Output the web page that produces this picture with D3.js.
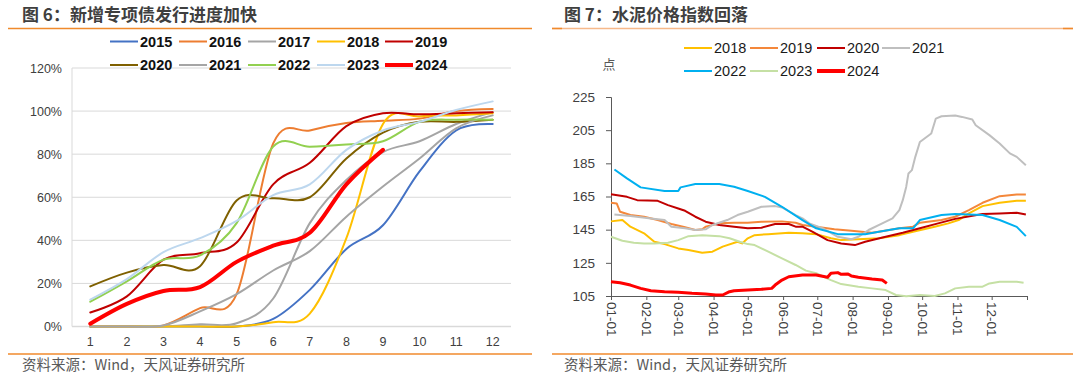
<!DOCTYPE html>
<html><head><meta charset="utf-8">
<script src="https://cdn.jsdelivr.net/npm/d3@7"></script>
<style>
body{margin:0;background:#fff;}
svg{display:block;}
.cjk{font-family:"Noto Sans CJK SC","Noto Sans",sans-serif;}
.num{font-family:"Liberation Sans",Arial,sans-serif;}
</style>
</head><body>
<svg id="c" width="1080" height="379"></svg>
<script>
// ---------- Left chart data: cumulative issuance progress (%) by month ----------
const months = [1,2,3,4,5,6,7,8,9,10,11,12];
const bondYears = ["2015","2016","2017","2018","2019","2020","2021","2022","2023","2024"];
const bond2015 = [0,0,0,0,0,3.5,17,36,47,72,91,94];
const bond2016 = [0,0,0.5,8.5,15,85,91,94.5,95.5,96.5,100,101];
const bond2017 = [0,0,0,1,1.5,13,48,68,81,86,94,99.5];
const bond2018 = [0,0,0,0,0,2,6,41,94,97.5,98,99];
const bond2019 = [6.5,14,31,34,39,66,76,93,99,98.5,99,99.5];
const bond2020 = [18.6,25,28.5,28,58.5,59.5,60,78,90,95,95,96];
const bond2021 = [0,0,0.5,7,15,26,35,51,65,78,92,98];
const bond2022 = [11.5,21,31,33,48,83.5,83.5,84.5,86,95,96,96];
const bond2023 = [12.5,22,34.5,41,49,61,66,82,91,95,100.5,104.5];
const bond2024 = [1.3,10.5,16.5,18.3,30,37.5,43.5,66,82];
const bondTicks = [0,20,40,60,80,100,120];

// ---------- Right chart data: cement price index (MM-DD, value) ----------
const cementYears = ["2018","2019","2020","2021","2022","2023","2024"];
const cement2018 = [["01-01",150],["01-11",150.8],["01-18",146.8],["01-30",142.8],["02-08",137.7],["02-17",136.3],["03-01",133.7],["03-10",132.7],["03-22",131.1],["03-31",131.7],["04-09",134.8],["04-22",137.7],["04-26",136.7],["05-01",139.8],["05-07",141.7],["05-19",142.3],["06-06",143.1],["06-18",142.8],["06-30",142.3],["07-13",139.8],["07-22",138.7],["08-06",139.2],["08-24",139.8],["09-11",141.7],["09-23",143.7],["10-12",146.8],["10-24",148.8],["11-02",150.8],["11-11",154.8],["11-23",159.2],["12-08",161.2],["12-23",162.4],["12-31",162.4]];
const cement2019 = [["01-01",161.2],["01-06",160.8],["01-09",155.8],["01-18",153.8],["01-30",152.8],["02-11",150.8],["02-23",148.4],["03-07",146.4],["03-16",144.8],["03-22",145.2],["03-25",146.8],["04-06",148.8],["04-19",149.2],["05-01",149.2],["05-13",149.8],["05-31",150],["06-12",149.2],["06-18",147.8],["06-30",146.8],["07-16",145.2],["07-31",144.4],["08-18",143.2],["08-24",143.8],["09-11",145.8],["09-23",146.8],["09-29",149.2],["10-18",150.8],["10-30",152.8],["11-11",156.8],["11-23",161.2],["12-08",165.2],["12-23",166.2],["12-31",166.2]];
const cement2020 = [["01-01",166.4],["01-15",164.8],["01-24",162.8],["02-11",162.4],["02-20",159.8],["03-01",157.8],["03-07",156.4],["03-16",152.8],["03-25",149.8],["04-06",147.8],["04-19",146.8],["05-01",145.8],["05-13",146.2],["05-25",148.4],["06-06",148.4],["06-12",146.8],["06-18",146.8],["06-27",143.7],["07-10",138.7],["07-22",136.7],["08-03",135.7],["08-12",137.7],["08-30",140.7],["09-14",143.1],["09-29",145.8],["10-15",148.8],["10-30",151.5],["11-23",154.4],["12-08",154.8],["12-23",155.2],["12-31",154.2]];
const cement2021 = [["01-04",154.2],["01-18",153.2],["02-05",151.8],["02-17",150.8],["02-23",146.8],["03-07",145.8],["03-16",144.8],["03-25",145.2],["03-31",147.8],["04-13",150.8],["04-22",153.8],["05-01",155.8],["05-13",158.8],["05-25",159.2],["05-31",158.4],["06-12",153.8],["06-18",151.8],["06-24",148.8],["07-06",145.8],["07-19",140.7],["07-31",139.2],["08-06",140.7],["08-15",144.8],["08-27",148.8],["09-05",151.8],["09-11",156.8],["09-14",162.8],["09-17",170.8],["09-19",178.9],["09-22",180.9],["09-25",188.9],["09-29",197.9],["10-09",203],["10-13",212],["10-18",213.4],["10-30",213.8],["11-05",213],["11-14",211.4],["11-17",208],["11-29",202],["12-08",197],["12-17",191],["12-23",188.9],["12-31",183.9]];
const cement2022 = [["01-04",181.3],["01-15",175.9],["01-27",170.5],["02-17",168.3],["03-01",168.3],["03-03",170.5],["03-16",172.5],["04-06",172.5],["04-19",170.9],["05-01",168.3],["05-16",164.8],["05-31",158.8],["06-18",150.8],["06-30",145.8],["07-19",142.3],["08-12",142.3],["08-24",143.7],["09-11",145.8],["09-23",145.8],["09-29",150.8],["10-18",153.8],["10-30",154.4],["11-23",153.8],["12-08",150.8],["12-23",146.7],["12-31",141.1]];
const cement2023 = [["01-01",140.7],["01-11",138.3],["01-21",137.1],["01-30",136.7],["02-08",136.7],["02-20",137.1],["03-01",138.7],["03-10",141.1],["03-22",141.7],["04-06",141.1],["04-15",139.8],["04-24",137.7],["05-01",136.3],["05-07",135.7],["05-19",131.7],["05-31",127.7],["06-12",123.7],["06-21",120.3],["06-30",118.7],["07-13",114.6],["07-22",112.2],["08-06",110.6],["08-18",109.6],["08-30",108.6],["09-08",105.6],["09-17",104.8],["09-29",105.6],["10-12",105],["10-21",106.6],["10-30",109.6],["11-11",110.6],["11-23",110.6],["11-29",112.6],["12-08",113.6],["12-23",113.6],["12-29",113]];
const cement2024 = [["01-01",113.6],["01-09",113],["01-18",111.6],["01-27",109.6],["02-05",108.2],["02-17",107.6],["03-01",107.2],["03-13",106.6],["03-25",106.2],["04-03",105.6],["04-09",105.6],["04-15",107.6],["04-19",108.2],["05-01",108.6],["05-13",109],["05-22",109.6],["05-25",111.6],["05-31",114.6],["06-06",116.6],["06-18",117.7],["06-30",117.7],["07-10",116.3],["07-13",118.7],["07-19",119.1],["07-22",118.1],["07-28",118.3],["07-31",117],["08-06",116.3],["08-18",115.2],["08-27",114.6],["08-31",112.6]];
const cementTicks = [105,125,145,165,185,205,225];

// ---------- styles ----------
const bondColors = ["#4472C4","#ED7D31","#A5A5A5","#FFC000","#C00000","#7F6000","#A5A5A5","#92D050","#BDD7EE","#FF0000"];
const cementColors = ["#FFC000","#F4873A","#C00000","#BFBFBF","#00B0F0","#C5E0A4","#FF0000"];

const svg = d3.select("#c");
const ORANGE = "#F08A2C";

// ================= LEFT PANEL =================
svg.append("text").attr("class","cjk").attr("x",22).attr("y",21)
  .attr("font-size",17).attr("font-weight","bold").attr("fill","#3F3F3F")
  .text("图 6：新增专项债发行进度加快");
svg.append("line").attr("x1",8).attr("x2",532).attr("y1",28.5).attr("y2",28.5).attr("stroke",ORANGE).attr("stroke-width",1.5);
svg.append("line").attr("x1",8).attr("x2",532).attr("y1",354).attr("y2",354).attr("stroke",ORANGE).attr("stroke-width",1.5);
svg.append("text").attr("class","cjk").attr("x",22).attr("y",370).attr("font-size",14.5).attr("fill","#595959")
  .text("资料来源：Wind，天风证券研究所");

const xL = d3.scaleBand().domain(months).range([72,511]);
const xLc = m => xL(m) + xL.bandwidth()/2;
const yL = d3.scaleLinear().domain([0,120]).range([326.5,68]);

const gL = svg.append("g");
gL.selectAll(".grid").data(bondTicks).join("line")
  .attr("x1",72).attr("x2",511).attr("y1",d=>yL(d)).attr("y2",d=>yL(d))
  .attr("stroke","#D9D9D9").attr("stroke-width",d=>d===0?1.5:1);
gL.append("line").attr("x1",72).attr("x2",72).attr("y1",yL(120)).attr("y2",yL(0)).attr("stroke","#D9D9D9");

const yAxL = gL.append("g").attr("transform","translate(72,0)")
  .call(d3.axisLeft(yL).tickValues(bondTicks).tickFormat(d=>d+"%").tickSize(0).tickPadding(10));
yAxL.select(".domain").remove();
yAxL.selectAll("text").attr("font-size",12.5).attr("fill","#404040").attr("font-family","Liberation Sans, Arial, sans-serif");

const xAxL = gL.append("g").attr("transform",`translate(0,${yL(0)})`)
  .call(d3.axisBottom(xL).tickSize(0).tickPadding(11));
xAxL.select(".domain").remove();
xAxL.selectAll("text").attr("font-size",12.5).attr("fill","#404040").attr("font-family","Liberation Sans, Arial, sans-serif");

const bondSeries = [bond2015,bond2016,bond2017,bond2018,bond2019,bond2020,bond2021,bond2022,bond2023,bond2024];
const lineL = d3.line().x((d,i)=>xLc(months[i])).y(d=>yL(d)).curve(d3.curveCardinal.tension(0));
bondSeries.forEach((s,i)=>{
  gL.append("path").attr("d",lineL(s)).attr("fill","none")
    .attr("stroke",bondColors[i]).attr("stroke-width",i===9?4:2).attr("stroke-linecap","round");
});

// legend left
const legColsL = [110,179,248,317,385];
const legRowsL = [41.5,65];
bondYears.forEach((yr,i)=>{
  const cx = legColsL[i%5], cy = legRowsL[Math.floor(i/5)];
  svg.append("line").attr("x1",cx).attr("x2",cx+28).attr("y1",cy).attr("y2",cy)
    .attr("stroke",bondColors[i]).attr("stroke-width",i===9?4:2);
  svg.append("text").attr("class","num").attr("x",cx+30).attr("y",cy).attr("dy","0.36em")
    .attr("font-size",14.5).attr("font-weight","bold").attr("fill","#111").text(yr);
});

// ================= RIGHT PANEL =================
svg.append("text").attr("class","cjk").attr("x",564).attr("y",21)
  .attr("font-size",17).attr("font-weight","bold").attr("fill","#3F3F3F")
  .text("图 7：水泥价格指数回落");
svg.append("line").attr("x1",552).attr("x2",1073).attr("y1",28.5).attr("y2",28.5).attr("stroke","#F6B98A").attr("stroke-width",1.5);
svg.append("line").attr("x1",552).attr("x2",562).attr("y1",28.5).attr("y2",28.5).attr("stroke",ORANGE).attr("stroke-width",1.5);
svg.append("line").attr("x1",1063).attr("x2",1073).attr("y1",28.5).attr("y2",28.5).attr("stroke",ORANGE).attr("stroke-width",1.5);
svg.append("line").attr("x1",552).attr("x2",1073).attr("y1",354).attr("y2",354).attr("stroke",ORANGE).attr("stroke-width",1.5);
svg.append("text").attr("class","cjk").attr("x",564).attr("y",370).attr("font-size",14.5).attr("fill","#595959")
  .text("资料来源：Wind，天风证券研究所");

const parseMD = d3.timeParse("%Y-%m-%d");
const toDate = md => parseMD("2023-" + md);
const xR = d3.scaleTime().domain([new Date(2023,0,1), new Date(2024,0,1)]).range([611,1027]);
const yR = d3.scaleLinear().domain([105,225]).range([296,97]);
const gR = svg.append("g");

const yAxR = gR.append("g").attr("transform","translate(611,0)")
  .call(d3.axisLeft(yR).tickValues(cementTicks).tickSize(5).tickPadding(11));
yAxR.select(".domain").attr("stroke","#595959");
yAxR.selectAll(".tick line").attr("stroke","#595959");
yAxR.selectAll("text").attr("font-size",13.5).attr("fill","#404040").attr("font-family","Liberation Sans, Arial, sans-serif");

const monthStarts = d3.timeMonth.range(new Date(2023,0,1), new Date(2024,0,2));
const xAxR = gR.append("g").attr("transform","translate(0,296)")
  .call(d3.axisBottom(xR).tickValues(monthStarts).tickSize(4).tickFormat(""));
xAxR.select(".domain").attr("stroke","#595959");
xAxR.selectAll(".tick line").attr("stroke","#595959");
const fmtMD = d3.timeFormat("%m-%d");
gR.selectAll(".xlab").data(monthStarts.slice(0,12)).join("text")
  .attr("class","num")
  .attr("transform",d=>`translate(${xR(d)},302) rotate(90)`)
  .attr("text-anchor","start").attr("dominant-baseline","central")
  .attr("font-size",13.5).attr("fill","#404040")
  .text(d=>fmtMD(d));

const cementSeries = [cement2018,cement2019,cement2020,cement2021,cement2022,cement2023,cement2024];
const lineR = d3.line().x(d=>xR(toDate(d[0]))).y(d=>yR(d[1]));
cementSeries.forEach((s,i)=>{
  gR.append("path").attr("d",lineR(s)).attr("fill","none")
    .attr("stroke",cementColors[i]).attr("stroke-width",i===6?3:2).attr("stroke-linejoin","round");
});

svg.append("text").attr("class","cjk").attr("x",609).attr("y",64).attr("dy","0.35em")
  .attr("text-anchor","middle").attr("font-size",13).attr("fill","#595959").text("点");

// legend right
const legColsR = [684,750,817,882];
const legRowsR = [48,71];
cementYears.forEach((yr,i)=>{
  const cx = legColsR[i%4], cy = legRowsR[Math.floor(i/4)];
  svg.append("line").attr("x1",cx).attr("x2",cx+28).attr("y1",cy).attr("y2",cy)
    .attr("stroke",cementColors[i]).attr("stroke-width",i===6?4:2);
  svg.append("text").attr("class","num").attr("x",cx+30).attr("y",cy).attr("dy","0.36em")
    .attr("font-size",14.5).attr("fill","#1a1a1a").text(yr);
});
</script>
</body></html>
